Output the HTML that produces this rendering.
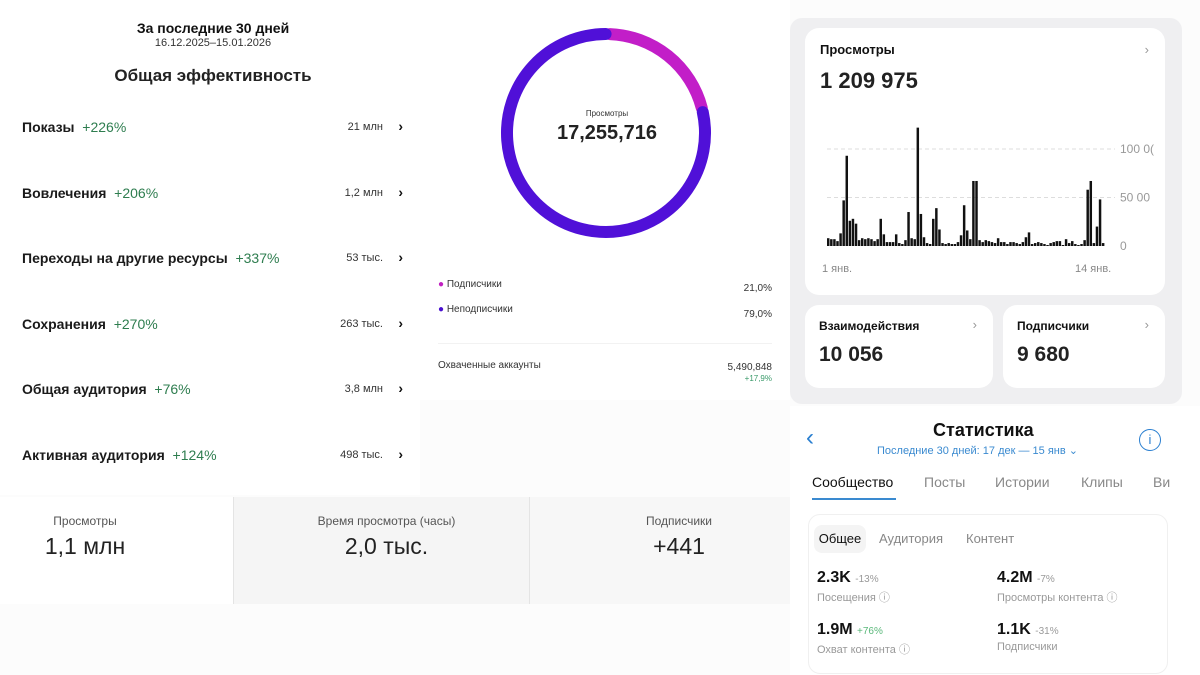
<!DOCTYPE html>
<html><head><meta charset="utf-8"><style>
*{margin:0;padding:0;box-sizing:border-box}
body{width:1200px;height:675px;position:relative;overflow:hidden;background:#fcfcfc;font-family:"Liberation Sans","Noto Sans CJK SC",sans-serif;color:#111}
.a{position:absolute;white-space:nowrap}
.card{position:absolute;background:#fff;border-radius:14px}
.g{color:#2e7d4f}
.gray{color:#888}
</style></head><body>
<div class="a" style="left:0;top:0;width:420px;height:495px;background:#fff">
 <div class="a" style="left:0;width:426px;top:20px;text-align:center;font-weight:bold;font-size:14px">За последние 30 дней</div>
 <div class="a" style="left:0;width:426px;top:37px;text-align:center;font-size:11px;color:#333">16.12.2025–15.01.2026</div>
 <div class="a" style="left:0;width:426px;top:66px;text-align:center;font-size:17px;font-weight:bold;color:#222">Общая эффективность</div>
 <div id="rows"></div>
</div>
<div class="a" style="left:420px;top:0;width:370px;height:400px;background:#fff">
 <svg class="a" style="left:0;top:0" width="370" height="260" id="donut"></svg>
 <div class="a" style="left:187px;top:109px;transform:translateX(-50%);font-size:8px;color:#333">Просмотры</div>
 <div class="a" style="left:187px;top:122px;transform:translateX(-50%);font-size:20px;font-weight:bold;color:#222">17,255,716</div>
 <div class="a" style="left:18px;top:279px;font-size:10px;color:#333"><span style="color:#c020c0">●</span> Подписчики</div>
 <div class="a" style="right:18px;top:283px;font-size:10px;color:#333">21,0%</div>
 <div class="a" style="left:18px;top:304px;font-size:10px;color:#333"><span style="color:#4a10d0">●</span> Неподписчики</div>
 <div class="a" style="right:18px;top:309px;font-size:10px;color:#333">79,0%</div>
 <div class="a" style="left:18px;top:343px;width:334px;height:1px;background:#f2f2f2"></div>
 <div class="a" style="left:18px;top:360px;font-size:10px;color:#333">Охваченные аккаунты</div>
 <div class="a" style="right:18px;top:362px;font-size:10px;color:#333;text-align:right">5,490,848<br><span style="font-size:8px;color:#3a9a6a">+17,9%</span></div>
</div>
<div class="a" style="left:0;top:497px;width:808px;height:107px">
 <div class="a" style="left:0;top:0;width:233px;height:107px;background:#fff">
  <div class="a" style="left:0;width:170px;top:17px;text-align:center;font-size:12px;color:#555">Просмотры</div>
  <div class="a" style="left:0;width:170px;top:36px;text-align:center;font-size:23px;color:#222">1,1 млн</div></div>
 <div class="a" style="left:233px;top:0;width:297px;height:107px;background:#f5f5f5;border-left:1px solid #e4e4e4;border-right:1px solid #e4e4e4">
  <div class="a" style="left:0;width:305px;top:17px;text-align:center;font-size:12px;color:#555">Время просмотра (часы)</div>
  <div class="a" style="left:0;width:305px;top:36px;text-align:center;font-size:23px;color:#222">2,0 тыс.</div></div>
 <div class="a" style="left:530px;top:0;width:278px;height:107px;background:#f7f7f7">
  <div class="a" style="left:0;width:298px;top:17px;text-align:center;font-size:12px;color:#555">Подписчики</div>
  <div class="a" style="left:0;width:298px;top:36px;text-align:center;font-size:23px;color:#222">+441</div></div>
</div>
<div class="a" style="left:790px;top:18px;width:392px;height:386px;background:#efeff1;border-radius:12px">
 <div class="card" style="left:15px;top:10px;width:360px;height:267px">
  <div class="a" style="left:15px;top:14px;font-size:13px;font-weight:bold">Просмотры</div>
  <div class="a" style="right:16px;top:14px;font-size:13px;color:#999">›</div>
  <div class="a" style="left:15px;top:40px;font-size:22px;font-weight:bold;color:#222">1 209 975</div>
  <svg class="a" id="bars" style="left:0;top:90px" width="360" height="170"></svg>
 </div>
 <div class="card" style="left:15px;top:287px;width:188px;height:83px">
  <div class="a" style="left:14px;top:14px;font-size:12px;font-weight:bold">Взаимодействия</div>
  <div class="a" style="right:16px;top:12px;font-size:13px;color:#999">›</div>
  <div class="a" style="left:14px;top:38px;font-size:21px;font-weight:bold;color:#222">10 056</div></div>
 <div class="card" style="left:213px;top:287px;width:162px;height:83px">
  <div class="a" style="left:14px;top:14px;font-size:12px;font-weight:bold">Подписчики</div>
  <div class="a" style="right:16px;top:12px;font-size:13px;color:#999">›</div>
  <div class="a" style="left:14px;top:38px;font-size:21px;font-weight:bold;color:#222">9 680</div></div>
</div>
<div class="a" style="left:790px;top:406px;width:410px;height:269px;background:#fff">
 <div class="a" style="left:16px;top:18px;font-size:24px;color:#2a7fd0">‹</div>
 <div class="a" style="left:143px;top:14px;font-size:18px;font-weight:bold">Статистика</div>
 <div class="a" style="left:87px;top:38px;font-size:11px;color:#3a8ad0">Последние 30 дней: 17 дек — 15 янв ⌄</div>
 <div class="a" style="left:349px;top:23px;width:22px;height:22px;border:1.5px solid #2a7fd0;border-radius:50%;text-align:center;font-size:13px;line-height:19px;color:#2a7fd0">i</div>
 <div class="a" style="left:22px;top:68px;font-size:14px;color:#111">Сообщество</div>
 <div class="a" style="left:22px;top:92px;width:84px;height:2px;background:#3a8ad0"></div>
 <div class="a" style="left:134px;top:68px;font-size:14px;color:#888">Посты</div>
 <div class="a" style="left:205px;top:68px;font-size:14px;color:#888">Истории</div>
 <div class="a" style="left:291px;top:68px;font-size:14px;color:#888">Клипы</div>
 <div class="a" style="left:363px;top:68px;font-size:14px;color:#888">Ви</div>
 <div class="a" style="left:18px;top:108px;width:360px;height:160px;border:1px solid #f0f0f0;border-radius:12px">
  <div class="a" style="left:5px;top:10px;width:52px;height:28px;background:#f4f4f4;border-radius:8px;font-size:13px;line-height:28px;text-align:center">Общее</div>
  <div class="a" style="left:70px;top:16px;font-size:13px;color:#888">Аудитория</div>
  <div class="a" style="left:157px;top:16px;font-size:13px;color:#888">Контент</div>
  <div class="a" style="left:8px;top:54px;font-size:16px;font-weight:bold">2.3K <span style="font-size:10px;font-weight:normal;color:#999">-13%</span></div>
  <div class="a" style="left:8px;top:74px;font-size:11px;color:#999">Посещения ⓘ</div>
  <div class="a" style="left:188px;top:54px;font-size:16px;font-weight:bold">4.2M <span style="font-size:10px;font-weight:normal;color:#999">-7%</span></div>
  <div class="a" style="left:188px;top:74px;font-size:11px;color:#999">Просмотры контента ⓘ</div>
  <div class="a" style="left:8px;top:106px;font-size:16px;font-weight:bold">1.9M <span style="font-size:10px;font-weight:normal;color:#5ab87a">+76%</span></div>
  <div class="a" style="left:8px;top:126px;font-size:11px;color:#999">Охват контента ⓘ</div>
  <div class="a" style="left:188px;top:106px;font-size:16px;font-weight:bold">1.1K <span style="font-size:10px;font-weight:normal;color:#999">-31%</span></div>
  <div class="a" style="left:188px;top:126px;font-size:11px;color:#999">Подписчики</div>
 </div>
</div>
<script>
const rowLabels=["Показы","Вовлечения","Переходы на другие ресурсы","Сохранения","Общая аудитория","Активная аудитория"];
const rowChanges=["+226%","+206%","+337%","+270%","+76%","+124%"];
const rowValues=["21 млн","1,2 млн","53 тыс.","263 тыс.","3,8 млн","498 тыс."];
const donutShares=[21.0,79.0];
const donutColors=["#c21ec8","#5010d8"];
const barValues=[7,6,6,4,12,46,92,25,27,22,5,7,6,7,6,4,6,27,11,3,3,3,11,2,1,5,34,7,6,121,32,8,2,1,27,38,16,2,1,2,1,1,3,10,41,15,6,66,66,5,3,5,4,3,2,7,3,3,1,3,3,2,1,3,8,13,1,2,3,2,1,0,2,3,4,4,0,6,2,4,1,0,1,5,57,66,2,19,47,2];
const barTicks=[0,50000,100000];
const barTickLabels=["0","50 00","100 0("];
const xLabels=["1 янв.","14 янв."];

const rows=document.getElementById('rows');
rowLabels.forEach((l,i)=>{
 const y=119+i*65.5;
 const d=document.createElement('div');
 d.className='a';d.style.left='22px';d.style.top=y+'px';d.style.width='385px';d.style.fontSize='14px';
 
 
 d.innerHTML='<span style="font-weight:bold;color:#1a1a1a">'+l+'</span>&nbsp; <span class="g">'+rowChanges[i]+'</span><span style="position:absolute;right:24px;top:2px;font-size:11px;color:#333">'+rowValues[i]+'</span><span style="position:absolute;right:4px;top:-1px;font-weight:bold">›</span>';
 rows.appendChild(d);
});

const NS='http://www.w3.org/2000/svg';
const dn=document.getElementById('donut');
const cx=186,cy=133,r=99,gap=2.5;
let acc=0;const tot=donutShares.reduce((a,b)=>a+b,0);
donutShares.forEach((s,i)=>{
 const a0=(acc/tot*360+gap/2+1)*Math.PI/180,a1=((acc+s)/tot*360-gap/2+1)*Math.PI/180;acc+=s;
 const p=document.createElementNS(NS,'path');
 const x0=cx+r*Math.sin(a0),y0=cy-r*Math.cos(a0),x1=cx+r*Math.sin(a1),y1=cy-r*Math.cos(a1);
 p.setAttribute('d',`M${x0} ${y0}A${r} ${r} 0 ${(a1-a0)>Math.PI?1:0} 1 ${x1} ${y1}`);
 p.setAttribute('fill','none');p.setAttribute('stroke',donutColors[i]);p.setAttribute('stroke-width','12');p.setAttribute('stroke-linecap','round');
 
 
 dn.appendChild(p);
});

const bs=document.getElementById('bars');
const base=128,scale=0.00097,x0=22,x1=300;
const yS=v=>base-v*scale;
barTicks.forEach((t,i)=>{
 if(t>0){const l=document.createElementNS(NS,'line');l.setAttribute('x1',x0);l.setAttribute('x2',x1+10);l.setAttribute('y1',yS(t));l.setAttribute('y2',yS(t));l.setAttribute('stroke','#ddd');l.setAttribute('stroke-dasharray','4 3');
 
 
 bs.appendChild(l);}
 const tx=document.createElementNS(NS,'text');tx.setAttribute('x',315);tx.setAttribute('y',yS(t)+4);tx.setAttribute('font-size','12');tx.setAttribute('fill','#999');tx.textContent=barTickLabels[i];
 
 
 bs.appendChild(tx);
});
const bw=(x1-x0)/barValues.length;
barValues.forEach((v,i)=>{
 const h=v*1000*scale;
 const rc=document.createElementNS(NS,'rect');
 rc.setAttribute('x',x0+i*bw);rc.setAttribute('y',base-h-1);rc.setAttribute('width',bw*0.8);rc.setAttribute('height',h+1);rc.setAttribute('fill','#111');
 
 
 bs.appendChild(rc);
});
xLabels.forEach((l,i)=>{
 const tx=document.createElementNS(NS,'text');tx.setAttribute('x',i==0?17:270);tx.setAttribute('y',154);tx.setAttribute('font-size','11');tx.setAttribute('fill','#888');tx.textContent=l;
 
 
 bs.appendChild(tx);
});
</script>
</body></html>
